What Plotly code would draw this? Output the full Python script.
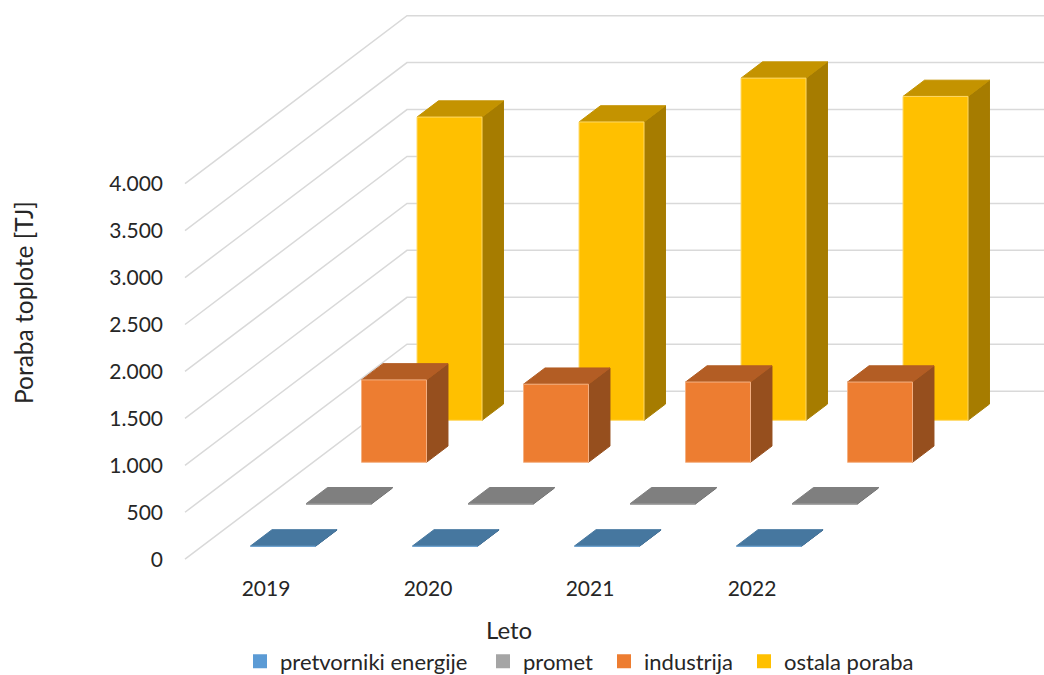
import plotly.graph_objects as go

# ---- data ----
years = ["2019", "2020", "2021", "2022"]
series_names = ["pretvorniki energije", "promet", "industrija", "ostala poraba"]
pretvorniki = [4, 4, 4, 4]
promet = [6, 6, 6, 6]
industrija = [878, 832, 855, 855]
ostala = [3230, 3178, 3645, 3450]
y_ticks = [0, 500, 1000, 1500, 2000, 2500, 3000, 3500, 4000]
y_tick_text = ["0", "500", "1.000", "1.500", "2.000", "2.500", "3.000", "3.500", "4.000"]

values = [pretvorniki, promet, industrija, ostala]

# colours: legend / front, top, side
front = ["#5B9BD5", "#A5A5A5", "#ED7D31", "#FFC000"]
top = ["#46779F", "#7F7F7F", "#B35D24", "#C49300"]
side = ["#3B6489", "#6B6B6B", "#964F1E", "#A67C00"]
edge = ["#6FA3CF", "#A5A5A5", "#F4B183", "#FFD966"]
legend_widths = [198, 76, 95, 133]
GRID = "#D9D9D9"
FONT = "Lato"
TXT = "#262626"

# oblique projection, in axis units
DX = 0.3426      # category units per depth slot
DY = 447.4       # TJ per depth slot
BAR_W = 0.401    # bar width, category units
BAR_D = 0.387    # bar depth, fraction of a depth slot
n_depth = len(series_names)
n_cat = len(years)

fig = go.Figure()


def proj(x, v, d):
    return x + d * DX, v + d * DY


# walls: one line per tick
gx, gy = [], []
for t in y_ticks:
    for x, d in [(-0.5, 0), (-0.5, n_depth), (n_cat - 0.5, n_depth)]:
        px, py = proj(x, t, d)
        gx.append(px)
        gy.append(py)
    gx.append(None)
    gy.append(None)
fig.add_trace(go.Scatter(x=gx, y=gy, mode="lines", line=dict(color=GRID, width=1.5),
                         hoverinfo="skip", showlegend=False))

# bars, back series first
for k in reversed(range(n_depth)):
    d0 = k + 0.5 - BAR_D / 2
    d1 = k + 0.5 + BAR_D / 2
    faces = {"top": ([], []), "side": ([], []), "front": ([], [])}
    for i, v in enumerate(values[k]):
        x0, x1 = i - BAR_W / 2, i + BAR_W / 2
        polys = {
            "top": [(x0, v, d0), (x1, v, d0), (x1, v, d1), (x0, v, d1)],
            "side": [(x1, 0, d0), (x1, v, d0), (x1, v, d1), (x1, 0, d1)],
            "front": [(x0, 0, d0), (x1, 0, d0), (x1, v, d0), (x0, v, d0)],
        }
        for name, pts in polys.items():
            for p in pts + pts[:1]:
                px, py = proj(*p)
                faces[name][0].append(px)
                faces[name][1].append(py)
            faces[name][0].append(None)
            faces[name][1].append(None)
    colors = {"side": (side[k], side[k]), "top": (top[k], top[k]), "front": (front[k], edge[k])}
    for name in ["side", "top", "front"]:
        fc, lc = colors[name]
        fig.add_trace(go.Scatter(x=faces[name][0], y=faces[name][1], mode="lines",
                                 fill="toself", fillcolor=fc, line=dict(color=lc, width=1),
                                 legendgroup=series_names[k], hoverinfo="skip", showlegend=False))

# legend keys
for k, name in enumerate(series_names):
    fig.add_trace(go.Scatter(x=[None], y=[None], mode="markers", name=name, legendgroup=name,
                             legendwidth=legend_widths[k],
                             marker=dict(symbol="square", size=14, color=front[k])))

L, R, T, B = 170, 0, 0, 105
W, H = 1044, 675
PX_CAT = 162.0
PX_500 = 46.94
X0_PX, Y0_PX = 266.0, 559.2


def x_at(px):
    return (px - X0_PX) / PX_CAT


def y_at(py):
    return (Y0_PX - py) / PX_500 * 500


fig.update_layout(
    width=W, height=H, autosize=False,
    margin=dict(l=L, r=R, t=T, b=B, pad=0, autoexpand=False),
    paper_bgcolor="white", plot_bgcolor="white",
    font=dict(family=FONT, size=21, color=TXT),
    xaxis=dict(range=[x_at(L), x_at(W - R)], tickmode="array", tickvals=list(range(n_cat)),
               ticktext=years, showgrid=False, zeroline=False, showline=False, ticks="",
               tickfont=dict(size=21, color=TXT), automargin=False, ticklabelstandoff=4),
    yaxis=dict(range=[y_at(H - B), y_at(T)], tickmode="array", tickvals=y_ticks,
               ticktext=y_tick_text, showgrid=False, zeroline=False, showline=False, ticks="",
               tickfont=dict(size=21, color=TXT), automargin=False, ticklabelstandoff=6),
    legend=dict(orientation="h", x=(240 - L) / (W - L - R), xanchor="left",
                y=-(675 - 570 + 7.5) / (H - T - B), yanchor="bottom",
                bgcolor="rgba(0,0,0,0)", font=dict(size=22, color=TXT), itemwidth=30),
    annotations=[
        dict(text="Poraba toplote [TJ]", xref="paper", yref="paper", textangle=-90,
             x=(23 - L) / (W - L - R), y=(H - B - 303) / (H - T - B),
             xanchor="center", yanchor="middle",
             showarrow=False, font=dict(size=24.5, color=TXT)),
        dict(text="Leto", xref="paper", yref="paper",
             x=(509 - L) / (W - L - R), y=(H - B - 629) / (H - T - B),
             xanchor="center", yanchor="middle",
             showarrow=False, font=dict(size=24, color=TXT)),
    ],
)

fig.write_html("out.html", post_script="document.body.style.margin='0';",
               config={"displayModeBar": False})
